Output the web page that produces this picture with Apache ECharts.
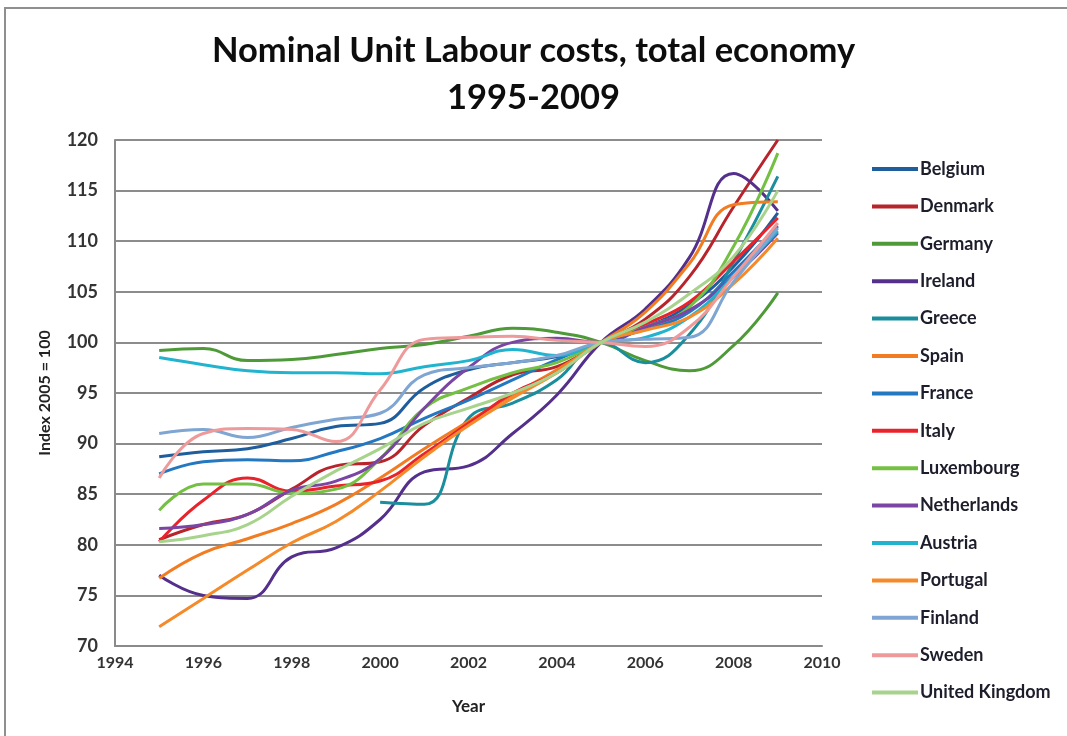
<!DOCTYPE html>
<html>
<head>
<meta charset="utf-8">
<title>Nominal Unit Labour costs, total economy 1995-2009</title>
<script src="https://cdn.jsdelivr.net/npm/echarts@6/dist/echarts.min.js"></script>
<style>
  html, body { margin: 0; padding: 0; background: #ffffff; }
  #chart { width: 1067px; height: 736px; }
</style>
</head>
<body>
<div id="chart"></div>
<script>
// Index values, 2005 = 100, one entry per year 1995..2009
const years = [1995, 1996, 1997, 1998, 1999, 2000, 2001, 2002, 2003, 2004, 2005, 2006, 2007, 2008, 2009];

const belgium     = [88.7, 89.2, 89.5, 90.5, 91.7, 92.0, 95.5, 97.3, 98.0, 98.6, 100, 101.5, 103.7, 107.5, 112.8];
const denmark     = [80.5, 82.0, 83.0, 85.5, 87.8, 88.2, 91.8, 94.5, 96.8, 97.6, 100, 102.3, 106.5, 113.4, 120.0];
const germany     = [99.2, 99.4, 98.2, 98.3, 98.8, 99.4, 99.8, 100.6, 101.4, 101.0, 100, 98.2, 97.2, 99.7, 104.9];
const ireland     = [77.0, 75.0, 74.7, 78.8, 79.7, 82.5, 87.2, 87.8, 91.0, 94.8, 100, 103.3, 108.4, 116.7, 113.0];
const greece      = [null, null, null, null, null, 84.2, 84.0, 92.5, 94.0, 96.3, 100, 98.0, 100.8, 108.0, 116.4];
const spain       = [76.7, 79.2, 80.6, 82.1, 84.0, 86.6, 89.5, 92.2, 94.8, 97.3, 100, 103.0, 107.8, 113.6, 113.9];
const france      = [87.0, 88.2, 88.4, 88.3, 89.2, 90.5, 92.5, 94.3, 96.3, 98.3, 100, 101.3, 103.0, 107.0, 111.5];
const italy       = [80.3, 84.4, 86.6, 85.3, 85.8, 86.3, 89.0, 92.0, 95.0, 97.0, 100, 101.8, 104.0, 108.0, 112.3];
const luxembourg  = [83.4, 86.0, 86.0, 85.1, 85.5, 88.5, 93.5, 95.5, 97.0, 98.0, 100, 101.5, 103.5, 109.5, 118.7];
const netherlands = [81.6, 82.0, 83.0, 85.4, 86.3, 88.5, 93.5, 97.5, 100.0, 100.4, 100, 101.5, 103.2, 106.5, 110.8];
const austria     = [98.5, 97.8, 97.2, 97.0, 97.0, 96.9, 97.6, 98.2, 99.3, 98.7, 100, 100.5, 102.5, 106.5, 111.0];
const portugal    = [71.9, 74.7, 77.5, 80.2, 82.3, 85.3, 88.7, 91.8, 94.5, 97.0, 100, 101.2, 102.5, 105.8, 110.3];
const finland     = [91.0, 91.4, 90.6, 91.6, 92.4, 93.0, 96.8, 97.5, 98.0, 98.7, 100, 100.3, 100.5, 106.0, 111.3];
const sweden      = [86.6, 91.0, 91.5, 91.4, 90.2, 95.3, 100.3, 100.5, 100.6, 100.2, 100, 99.6, 101.5, 106.5, 111.8];
const unitedKingdom = [80.3, 80.9, 82.0, 84.8, 87.3, 89.5, 92.0, 93.5, 95.0, 97.0, 100, 102.0, 104.8, 108.5, 115.0];

const countries = [
  'Belgium', 'Denmark', 'Germany', 'Ireland', 'Greece', 'Spain', 'France', 'Italy',
  'Luxembourg', 'Netherlands', 'Austria', 'Portugal', 'Finland', 'Sweden', 'United Kingdom'
];
const seriesValues = [
  belgium, denmark, germany, ireland, greece, spain, france, italy,
  luxembourg, netherlands, austria, portugal, finland, sweden, unitedKingdom
];
const lineColors = [
  '#1f5e9c', '#b8242b', '#4e9a38', '#54308c', '#1a8e9c', '#f27c21', '#2378c1', '#e8232b',
  '#74c043', '#7a45a3', '#22b4cf', '#f58a2a', '#7fa5d3', '#ee9a9a', '#a7d38d'
];

const titleText = 'Nominal Unit Labour costs, total economy\n1995-2009';
const yAxisTitle = 'Index 2005 = 100';
const xAxisTitle = 'Year';

const FONT = 'Lato, "Open Sans", sans-serif';

const chart = echarts.init(document.getElementById('chart'), null, { renderer: 'canvas' });

const series = countries.map((name, i) => ({
  name: name,
  type: 'line',
  smooth: 0.45,
  showSymbol: false,
  symbol: 'none',
  connectNulls: false,
  lineStyle: { width: 3, color: lineColors[i] },
  itemStyle: { color: lineColors[i] },
  emphasis: { disabled: true },
  data: years.map((y, k) => [y, seriesValues[i][k]])
}));

chart.setOption({
  backgroundColor: '#ffffff',
  animation: false,
  color: lineColors,
  title: {
    text: titleText,
    left: 'center',
    top: 22,
    textStyle: {
      fontFamily: FONT,
      fontWeight: 'bold',
      fontSize: 34.5,
      lineHeight: 47,
      color: '#0d0d0d'
    }
  },
  legend: {
    orient: 'vertical',
    left: 867,
    top: 155,
    icon: 'rect',
    itemWidth: 46,
    itemHeight: 4,
    itemGap: 19.4,
    data: countries,
    textStyle: {
      fontFamily: FONT,
      fontWeight: 'bold',
      fontSize: 18,
      lineHeight: 18,
      color: '#1d1d2b',
      padding: [0, 0, 0, -3]
    }
  },
  grid: {
    left: 115,
    top: 140,
    right: 245,
    bottom: 90,
    containLabel: false
  },
  xAxis: {
    type: 'value',
    min: 1994,
    max: 2010,
    interval: 2,
    name: xAxisTitle,
    nameLocation: 'middle',
    nameGap: 52,
    nameTextStyle: {
      fontFamily: FONT,
      fontWeight: 'bold',
      fontSize: 17,
      color: '#222222'
    },
    axisLine: { show: true, lineStyle: { color: '#8a8a8a', width: 2 } },
    axisTick: { show: false },
    splitLine: { show: false },
    axisLabel: {
      margin: 9,
      fontFamily: FONT,
      fontWeight: 'bold',
      fontSize: 16,
      color: '#333333',
      formatter: (v) => String(v)
    }
  },
  yAxis: {
    type: 'value',
    min: 70,
    max: 120,
    interval: 5,
    name: yAxisTitle,
    nameLocation: 'middle',
    nameGap: 62,
    nameTextStyle: {
      fontFamily: FONT,
      fontWeight: 'bold',
      fontSize: 16,
      color: '#222222'
    },
    axisLine: { show: true, lineStyle: { color: '#8a8a8a', width: 2 } },
    axisTick: { show: false },
    splitLine: { show: true, lineStyle: { color: '#8c8c8c', width: 2 } },
    axisLabel: {
      margin: 17,
      fontFamily: FONT,
      fontWeight: 'bold',
      fontSize: 18,
      color: '#333333'
    }
  },
  graphic: [
    {
      // outer frame of the chart area
      type: 'polyline',
      silent: true,
      z: 100,
      shape: { points: [[5, 736], [5, 8], [1067, 8]] },
      style: { stroke: '#8f8f8f', lineWidth: 2, fill: null }
    }
  ],
  series: series
});
</script>
</body>
</html>
